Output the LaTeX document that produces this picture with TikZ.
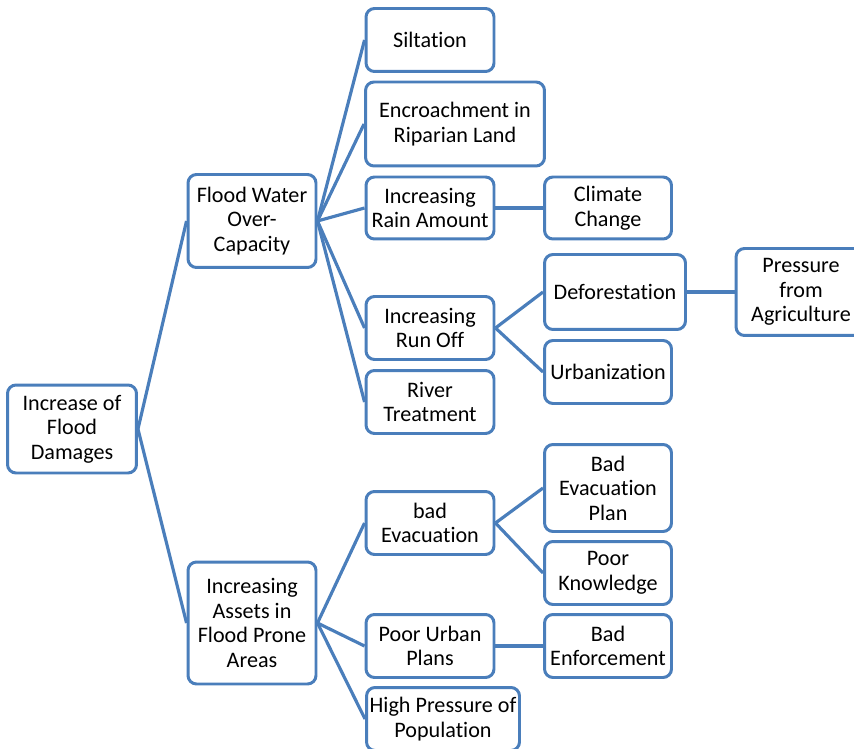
\documentclass[tikz,border=0pt]{standalone}
\usepackage{fontspec}
\setmainfont{Carlito}[Ligatures=NoCommon]
\definecolor{boxblue}{HTML}{4A7EBB}

\begin{document}
\begin{tikzpicture}[
  x=0.02cm, y=-0.02cm,
  box/.style={draw=boxblue, line width=1.7pt, rounded corners=0.17cm, fill=white,
    align=center, inner sep=1pt, font=\fontsize{12.6}{14}\selectfont},
  link/.style={draw=boxblue, line width=1.8pt},
]
  \useasboundingbox (0,0) rectangle (854,749);
  \clip (0,0) rectangle (854,749);

  % root and first level
  \node[box, minimum width=2.58cm, minimum height=1.76cm] (root) at (72,429) {Increase of\\Flood\\Damages};
  \node[box, minimum width=2.56cm, minimum height=1.86cm] (water) at (252,221) {Flood Water\\Over-\\Capacity};
  \node[box, minimum width=2.56cm, minimum height=2.44cm] (assets) at (252,623) {Increasing\\Assets in\\Flood Prone\\Areas};

  % causes of over-capacity
  \node[box, minimum width=2.56cm, minimum height=1.26cm] (silt) at (430,40) {Siltation};
  \node[box, minimum width=3.58cm, minimum height=1.68cm] (encroach) at (455,124) {Encroachment in\\Riparian Land};
  \node[box, minimum width=2.56cm, minimum height=1.24cm] (rain) at (430,208) {Increasing\\Rain Amount};
  \node[box, minimum width=2.54cm, minimum height=1.24cm] (climate) at (608,208) {Climate\\Change};
  \node[box, minimum width=2.56cm, minimum height=1.26cm] (runoff) at (430,328) {Increasing\\Run Off};
  \node[box, minimum width=2.82cm, minimum height=1.50cm] (defor) at (615,292) {Deforestation};
  \node[box, minimum width=2.60cm, minimum height=1.74cm] (agri) at (801,292) {Pressure\\from\\Agriculture};
  \node[box, minimum width=2.54cm, minimum height=1.26cm] (urban) at (608,372) {Urbanization};
  \node[box, minimum width=2.56cm, minimum height=1.26cm] (river) at (430,402) {River\\Treatment};

  % causes of growing assets
  \node[box, minimum width=2.56cm, minimum height=1.26cm] (evac) at (430,523) {bad\\Evacuation};
  \node[box, minimum width=2.54cm, minimum height=1.74cm] (evacplan) at (608,488) {Bad\\Evacuation\\Plan};
  \node[box, minimum width=2.54cm, minimum height=1.26cm] (knowledge) at (608,573) {Poor\\Knowledge};
  \node[box, minimum width=2.56cm, minimum height=1.26cm] (urbplan) at (430,646) {Poor Urban\\Plans};
  \node[box, minimum width=2.54cm, minimum height=1.26cm] (enforce) at (608,646) {Bad\\Enforcement};
  \node[box, minimum width=3.06cm, minimum height=1.26cm] (popul) at (443,719) {High Pressure of\\Population};

  \draw[link] (root.east) -- (water.west);
  \draw[link] (root.east) -- (assets.west);
  \foreach \kid in {silt, encroach, rain, runoff, river}
    \draw[link] (water.east) -- (\kid.west);
  \draw[link] (rain.east) -- (climate.west);
  \draw[link] (runoff.east) -- (defor.west);
  \draw[link] (runoff.east) -- (urban.west);
  \draw[link] (defor.east) -- (agri.west);
  \foreach \kid in {evac, urbplan, popul}
    \draw[link] (assets.east) -- (\kid.west);
  \draw[link] (evac.east) -- (evacplan.west);
  \draw[link] (evac.east) -- (knowledge.west);
  \draw[link] (urbplan.east) -- (enforce.west);
\end{tikzpicture}
\end{document}
